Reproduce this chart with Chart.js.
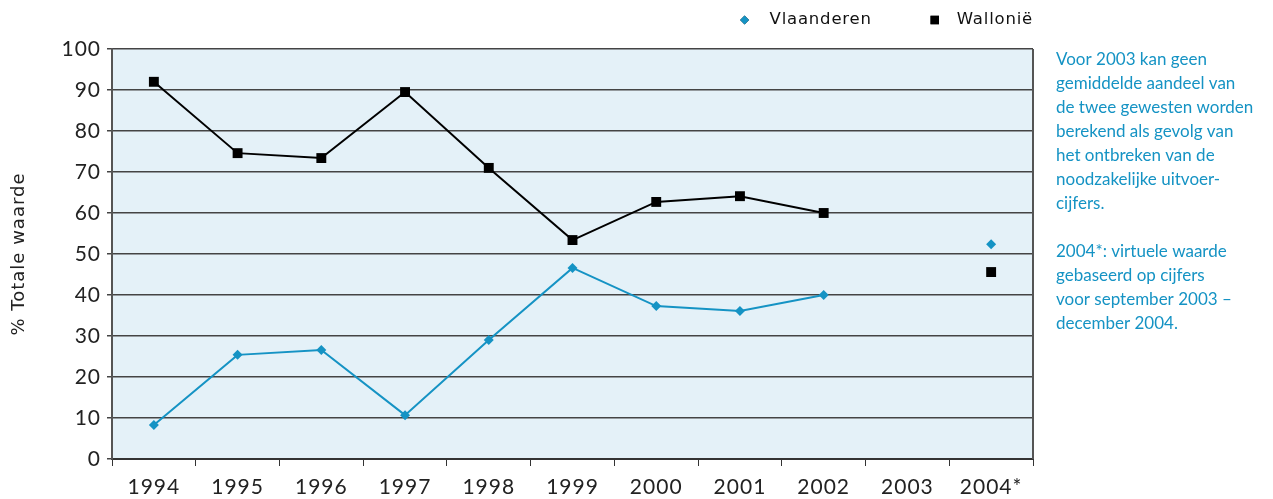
<!DOCTYPE html>
<html>
<head>
<meta charset="utf-8">
<script src="https://cdn.jsdelivr.net/npm/chart.js@4/dist/chart.umd.min.js"></script>
<style>
  html, body { margin: 0; padding: 0; background: #fff; }
  #wrap { width: 1273px; height: 499px; }
</style>
</head>
<body>
<div id="wrap"><canvas id="myChart" width="1273" height="499"></canvas></div>
<script>
var years = ["1994", "1995", "1996", "1997", "1998", "1999", "2000", "2001", "2002", "2003", "2004*"];
var vlaanderen = [8.3, 25.4, 26.6, 10.7, 29.0, 46.6, 37.3, 36.1, 40.0, null, 52.4];
var wallonie = [92.0, 74.6, 73.4, 89.5, 71.0, 53.4, 62.7, 64.1, 60.0, null, 45.6];
var yTicks = [0, 10, 20, 30, 40, 50, 60, 70, 80, 90, 100];
var noteLines = [
    "Voor 2003 kan geen",
    "gemiddelde aandeel van",
    "de twee gewesten worden",
    "berekend als gevolg van",
    "het ontbreken van de",
    "noodzakelijke uitvoer-",
    "cijfers.",
    "",
    "2004*: virtuele waarde",
    "gebaseerd op cijfers",
    "voor september 2003 \u2013",
    "december 2004."
];

var blue = "#1593c4";
var ink = "#222";

// light blue plot area + frame, letter spacing for axis text
var plotBg = {
    id: "plotBg",
    beforeDraw: function(chart) {
        var a = chart.chartArea, ctx = chart.ctx;
        ctx.save();
        ctx.fillStyle = "#e4f1f8";
        ctx.fillRect(a.left, a.top, a.right - a.left, a.bottom - a.top);
        ctx.restore();
        ctx.letterSpacing = "1px";
    },
    afterDatasetsDraw: function(chart) {
        var a = chart.chartArea, ctx = chart.ctx;
        ctx.letterSpacing = "0px";
        ctx.save();
        ctx.strokeStyle = "#555";
        ctx.lineWidth = 2;
        ctx.beginPath();
        ctx.moveTo(a.right, a.top);
        ctx.lineTo(a.right, a.bottom);
        ctx.stroke();
        ctx.restore();
    }
};

// legend drawn by hand so it sits close above the plot
var topLegend = {
    id: "topLegend",
    afterDraw: function(chart) {
        var a = chart.chartArea, ctx = chart.ctx;
        ctx.save();
        ctx.font = "16.5px 'DejaVu Sans'";
        ctx.letterSpacing = "0.8px";
        ctx.fillStyle = "#111";
        ctx.textBaseline = "middle";
        var x = a.right;
        var y = 20;
        var gaps = [25, 22];
        var sets = chart.data.datasets;
        for (var i = sets.length - 1; i >= 0; i--) {
            var ds = sets[i];
            var w = ctx.measureText(ds.label).width;
            x -= w;
            ctx.fillText(ds.label, x, y);
            x -= gaps[i];
            Chart.helpers.drawPoint(ctx, {
                pointStyle: ds.pointStyle,
                radius: ds.pointStyle == "rect" ? 6 : 4.5,
                rotation: 0,
                borderWidth: 0
            }, x, y);
            ctx.fillStyle = ds.backgroundColor;
            ctx.fill();
            ctx.fillStyle = "#111";
            x -= 63;
        }
        ctx.restore();
    }
};

// side note on the right
var sideNote = {
    id: "sideNote",
    afterDraw: function(chart) {
        var a = chart.chartArea, ctx = chart.ctx;
        ctx.save();
        ctx.fillStyle = blue;
        ctx.font = "17px Lato";
        ctx.textBaseline = "middle";
        for (var i = 0; i < noteLines.length; i++) {
            ctx.fillText(noteLines[i], a.right + 23, 60 + i * 24);
        }
        ctx.restore();
    }
};

var ctx = document.getElementById("myChart").getContext("2d");
var chart = new Chart(ctx, {
    type: "line",
    data: {
        labels: years,
        datasets: [{
                label: "Vlaanderen",
                data: vlaanderen,
                borderColor: blue,
                backgroundColor: blue,
                borderWidth: 2,
                pointStyle: "rectRot",
                pointRadius: 5,
                pointBorderWidth: 0,
                spanGaps: false
            },
            {
                label: "Walloni\u00eb",
                data: wallonie,
                borderColor: "#000",
                backgroundColor: "#000",
                borderWidth: 2,
                pointStyle: "rect",
                pointRadius: 7,
                pointBorderWidth: 0,
                spanGaps: false
            }
        ]
    },
    options: {
        responsive: false,
        animation: false,
        layout: { padding: { left: 9, right: 240, top: 49, bottom: 0 } },
        plugins: {
            tooltip: { enabled: false },
            legend: { display: false }
        },
        scales: {
            x: {
                offset: true,
                grid: {
                    offset: true,
                    drawOnChartArea: false,
                    drawTicks: true,
                    tickLength: 7,
                    color: "#333"
                },
                border: { color: "#333", width: 2 },
                ticks: {
                    color: ink,
                    padding: 9,
                    maxRotation: 0,
                    autoSkip: false,
                    font: { family: "Lato", size: 21 }
                },
                afterFit: function(s) { s.height = 40; }
            },
            y: {
                min: 0,
                max: 100,
                afterBuildTicks: function(s) {
                    s.ticks = yTicks.map(function(v) { return { value: v }; });
                },
                grid: {
                    color: "#444",
                    lineWidth: 1.5,
                    tickLength: 5
                },
                border: { color: "#555", width: 2 },
                ticks: {
                    color: ink,
                    padding: 6,
                    font: { family: "Lato", size: 21 }
                },
                title: {
                    display: true,
                    text: "% Totale waarde",
                    color: ink,
                    padding: { top: 0, bottom: 24 },
                    font: { family: "DejaVu Sans", size: 18 }
                },
                afterFit: function(s) { s.width = 103; }
            }
        }
    },
    plugins: [plotBg, topLegend, sideNote]
});
</script>
</body>
</html>
